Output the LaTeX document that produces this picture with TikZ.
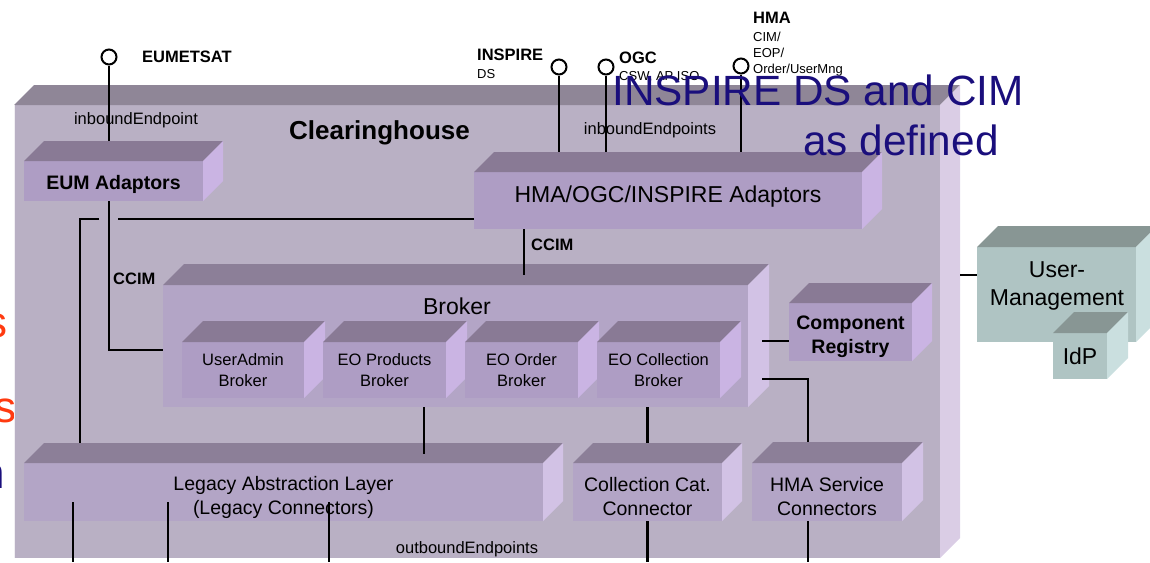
\documentclass[tikz,border=0pt]{standalone}
\usepackage{fontspec}
\setmainfont{Liberation Sans}

% face colours: F = front, T = top, S = side
\definecolor{chF}{HTML}{B9B0C4}
\definecolor{chT}{HTML}{8F8697}
\definecolor{chS}{HTML}{DACDE5}
\definecolor{pF}{HTML}{B3A5C6}
\definecolor{pT}{HTML}{8C7F98}
\definecolor{pS}{HTML}{D2C2E5}
\definecolor{qF}{HTML}{AE9DC4}
\definecolor{qT}{HTML}{897A95}
\definecolor{qS}{HTML}{CAB4E3}
\definecolor{gF}{HTML}{AFC4C3}
\definecolor{gT}{HTML}{889694}
\definecolor{gS}{HTML}{CADFDF}
\definecolor{navy}{HTML}{1A0E7C}
\definecolor{redo}{HTML}{FF3A10}

% \cube[text options]{name}{x}{y}{width}{height}{palette}{text}
% draws a front face node plus its top and right faces, then the caption
\newcommand{\cube}[8][]{%
  \node[cubefront, fill=#7F, minimum width=#5pt, minimum height=#6pt,
        anchor=north west] (#2) at (#3,#4) {};
  \fill[#7T] (#2.north west) -- ++(\dep,-\dep)
      -- ([shift={(\dep,-\dep)}]#2.north east) -- (#2.north east) -- cycle;
  \fill[#7S] (#2.north east) -- ++(\dep,-\dep)
      -- ([shift={(\dep,-\dep)}]#2.south east) -- (#2.south east) -- cycle;
  \coordinate (#2-t) at ([yshift=\dep pt]#2.north);
  \node[cubetext, #1] (#2-label) at (#2.center) {#8};
}

\begin{document}
\begin{tikzpicture}[x=1pt,y=-1pt,
  cubefront/.style={inner sep=0pt, outer sep=0pt},
  cubetext/.style={inner sep=0pt, align=center, text=black},
  wire/.style={line width=2.1pt, black},
  port/.style={circle, draw=black, line width=2pt, fill=white,
               minimum size=15pt, inner sep=0pt},
  tsmall/.style={font=\fontsize{13}{16}\selectfont, inner sep=0pt, anchor=base west},
  tlabel/.style={font=\fontsize{16.5}{19}\selectfont, inner sep=0pt},
  tbold/.style={font=\bfseries\fontsize{16.5}{19}\selectfont, inner sep=0pt},
  fmid/.style={font=\fontsize{16.5}{21}\selectfont},
  fbig/.style={font=\fontsize{19.5}{24}\selectfont, yshift=-5pt},
  fbigb/.style={font=\bfseries\fontsize{19.5}{24}\selectfont},
  ftitle/.style={font=\fontsize{23}{28}\selectfont, inner sep=0pt},
  note/.style={text=navy, font=\fontsize{42.3}{48}\selectfont, inner sep=0pt, anchor=base},
]
\useasboundingbox (0,0) rectangle (1150,562);
\def\dep{20}

% partly visible words at the left margin
\node[text=redo, font=\fontsize{44}{48}\selectfont, inner sep=0pt, anchor=base west]
  (frag1) at (-14.5,337) {s};
\node[text=redo, font=\fontsize{44}{48}\selectfont, inner sep=0pt, anchor=base west]
  (frag2) at (-5.5,422) {s};
\node[text=navy, font=\fontsize{44}{48}\selectfont, inner sep=0pt, anchor=base west]
  (frag3) at (-20,488) {n};

% outer container
\cube{ch}{14}{105}{926}{453}{ch}{}
\draw[white!80!chF, line width=1pt] (ch.north west) -- (ch.south west);
\node[font=\bfseries\fontsize{26}{30}\selectfont, inner sep=0pt, anchor=west]
  (chtitle) at (289,133) {Clearinghouse};

% adaptors
\cube[fbigb, yshift=-3pt]{eum}{24}{161}{179}{40}{q}{EUM Adaptors}
\cube[ftitle, yshift=4pt]{hma}{474}{172}{388}{57}{q}{HMA/OGC/INSPIRE Adaptors}

% broker and its parts
\def\dep{21}
\cube{broker}{163}{285}{585}{122}{p}{}
\node[ftitle] (brokertitle) at (457,306) {Broker};
\cube[fmid]{ua}{182}{342}{122}{56}{q}{UserAdmin\\Broker}
\cube[fmid]{eop}{323}{342}{123}{56}{q}{EO Products\\Broker}
\cube[fmid]{eoo}{465}{342}{113}{56}{q}{EO Order\\Broker}
\cube[fmid]{eoc}{597}{342}{123}{56}{q}{EO Collection\\Broker}

\def\dep{20}
\cube[fbigb, yshift=-5pt]{reg}{789}{303}{123}{58}{q}{Component\\Registry}

% connector layer
\cube[fbig]{legacy}{24}{463}{519}{58}{p}{Legacy Abstraction Layer\\(Legacy Connectors)}
\cube[fbig]{cat}{573}{463}{149}{58}{p}{Collection Cat.\\Connector}
\def\dep{21}
\cube[fbig]{hsc}{752}{463}{150}{58}{p}{HMA Service\\Connectors}

% user management
\cube{um}{977}{247}{159}{95}{g}{}
\node[font=\fontsize{23}{28}\selectfont, align=center, inner sep=0pt]
  (umtitle) at (1057,286) {User-\\Management};
\cube[font=\fontsize{23}{28}\selectfont]{idp}{1053}{333}{54}{46}{g}{IdP}

% interface labels
\node[tbold, anchor=west] (lEum) at (142,57) {EUMETSAT};
\node[tlabel] (lInbound) at (136,120) {inboundEndpoint};
\node[tbold, anchor=west] (lInspire) at (477,55) {INSPIRE};
\node[tsmall] (lDs) at (477,78.6) {DS};
\node[tbold, anchor=west] (lOgc) at (619,58) {OGC};
\node[tsmall] (lCsw) at (619,80.6) {CSW, AP ISO};
\node[tbold, anchor=west] (lHma) at (753,18) {HMA};
\node[tsmall] (lCim) at (753,41.7) {CIM/};
\node[tsmall] (lEop) at (753,57.7) {EOP/};
\node[tsmall] (lOrder) at (753,73.7) {Order/UserMng};
\node[tlabel] (lInbounds) at (650,130) {inboundEndpoints};
\node[tbold, anchor=west] (lCcim1) at (531,245) {CCIM};
\node[tbold, anchor=west] (lCcim2) at (113,279) {CCIM};
\node[tlabel] (lOutbound) at (467,549) {outboundEndpoints};

% provided interfaces
\node[port] (pEum) at (109,57) {};
\node[port] (pInspire) at (559,67) {};
\node[port] (pOgc) at (606,67) {};
\node[port] (pHma) at (741,66) {};
\draw[wire] (pEum.south) -- (pEum.south |- eum-t);
\draw[wire] (pInspire.south) -- (pInspire.south |- hma-t);
\draw[wire] (pOgc.south) -- (pOgc.south |- hma-t);
\draw[wire] (pHma.south) -- (pHma.south |- hma-t);

% internal wiring
\coordinate (eumV) at (109,350);
\draw[wire] (eum.south -| eumV) -- (eumV) -- (broker.west |- eumV);
\coordinate (j1) at (118,219);
\coordinate (j2) at (99,219);
\coordinate (k) at (80,219);
\draw[wire] (hma.west |- j1) -- (j1);
\draw[wire] (j2) -- (k) -- (k |- legacy-t);
\coordinate (h1) at (524,275);
\draw[wire] (hma.south -| h1) -- (h1);
\coordinate (b1) at (424,454);
\draw[wire] (broker.south -| b1) -- (b1);
\draw[wire] (broker.south -| cat-t) -- (cat-t);
\coordinate (c1) at (762,341);
\draw[wire] (c1) -- (reg.west |- c1);
\coordinate (c2) at (762,379);
\coordinate (hs) at (808,379);
\draw[wire] (c2) -- (hs) -- (hs |- hsc-t);
\coordinate (u1) at (960,275);
\draw[wire] (u1) -- (um.west |- u1);

% outbound endpoints
\coordinate (lin) at ([yshift=19pt]legacy.south);
\coordinate (o1) at (73,562);
\coordinate (o2) at (168,562);
\coordinate (o3) at (329,562);
\coordinate (o5) at (808,562);
\draw[wire] (lin -| o1) -- (o1);
\draw[wire] (lin -| o2) -- (o2);
\draw[wire] (lin -| o3) -- (o3);
\draw[wire] (cat.south) -- (cat.south |- o1);
\draw[wire] (hsc.south -| o5) -- (o5);

% annotation
\node[note] (note1) at (818,105) {INSPIRE DS and CIM};
\node[note] (note2) at (901,155) {as defined};
\end{tikzpicture}
\end{document}
